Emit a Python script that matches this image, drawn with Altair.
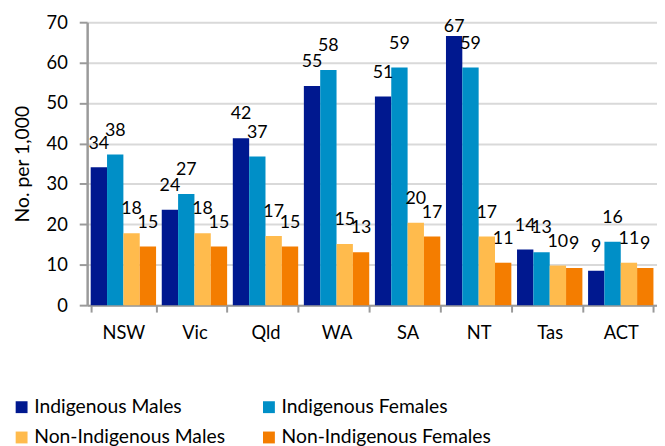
import altair as alt
import pandas as pd

states = ["NSW", "Vic", "Qld", "WA", "SA", "NT", "Tas", "ACT"]
series = ["Indigenous Males", "Indigenous Females", "Non-Indigenous Males", "Non-Indigenous Females"]
colors = ["#00188F", "#008FC7", "#FFBB4D", "#F47D00"]

ind_males = [34.1, 23.6, 41.3, 54.2, 51.6, 66.6, 13.8, 8.5]
ind_females = [37.3, 27.5, 36.8, 58.2, 58.8, 58.8, 13.1, 15.7]
non_ind_males = [17.8, 17.8, 17.1, 15.1, 20.4, 17.0, 9.8, 10.5]
non_ind_females = [14.5, 14.5, 14.5, 13.1, 17.0, 10.5, 9.2, 9.2]

lab_ind_males = ["34", "24", "42", "55", "51", "67", "14", "9"]
lab_ind_females = ["38", "27", "37", "58", "59", "59", "13", "16"]
lab_non_ind_males = ["18", "18", "17", "15", "20", "17", "10", "11"]
lab_non_ind_females = ["15", "15", "15", "13", "17", "11", "9", "9"]

y_ticks = [0, 10, 20, 30, 40, 50, 60, 70]

rows = []
for s, vals, labs in zip(series,
                         [ind_males, ind_females, non_ind_males, non_ind_females],
                         [lab_ind_males, lab_ind_females, lab_non_ind_males, lab_non_ind_females]):
    for st, v, l in zip(states, vals, labs):
        rows.append({"state": st, "series": s, "value": v, "label": l})
df = pd.DataFrame(rows)

FONT = "Lato"

x_enc = alt.X("state:N", sort=states,
              scale=alt.Scale(paddingInner=0.08, paddingOuter=0.05),
              axis=alt.Axis(title=None, labelFontSize=18.5, labelFont=FONT, labelColor="#000000",
                            labelAngle=0, labelPadding=12, tickBand="extent",
                            domainColor="#9a9a9a", domainWidth=2, tickColor="#9a9a9a",
                            tickWidth=2, tickSize=7))
xo_enc = alt.XOffset("series:N", sort=series)

base = alt.Chart(df)

bars = base.mark_bar().encode(
    x=x_enc,
    xOffset=xo_enc,
    y=alt.Y("value:Q", scale=alt.Scale(domain=[0, 70], nice=False),
            axis=alt.Axis(values=y_ticks, title="No. per 1,000", titleFont=FONT,
                          titleFontSize=19.5, titleFontWeight="normal", titleColor="#000000",
                          titlePadding=14, labelFont=FONT, labelFontSize=18.5,
                          labelColor="#000000", labelPadding=12,
                          domainColor="#9a9a9a", domainWidth=2.5, tickColor="#9a9a9a",
                          tickWidth=2, tickSize=8, gridColor="#d9d9d9", gridWidth=2)),
    color=alt.Color("series:N", sort=series,
                    scale=alt.Scale(domain=series, range=colors),
                    legend=alt.Legend(title=None, orient="none", legendX=-76, legendY=379,
                                      direction="horizontal",
                                      columns=2, symbolType="square", symbolSize=144,
                                      symbolStrokeWidth=0, labelFont=FONT, labelFontSize=19.5,
                                      labelColor="#000000", labelOffset=3,
                                      columnPadding=34, rowPadding=10, labelLimit=300)),
)

labels = base.mark_text(baseline="middle", align="center", dy=-24, font=FONT,
                        fontSize=18, color="#000000").transform_calculate(
    labelpos="min(datum.value, 62.9)"
).encode(
    x=alt.X("state:N", sort=states),
    xOffset=xo_enc,
    y=alt.Y("labelpos:Q"),
    text="label:N",
)

chart = alt.layer(bars, labels).properties(
    width=576, height=286,
    autosize=alt.AutoSizeParams(type="none"),
    padding={"left": 80, "top": 12, "right": 0, "bottom": 140},
    background="white",
).configure_view(stroke=None)

chart.save("out.html", embed_options={"renderer": "svg", "actions": False})
